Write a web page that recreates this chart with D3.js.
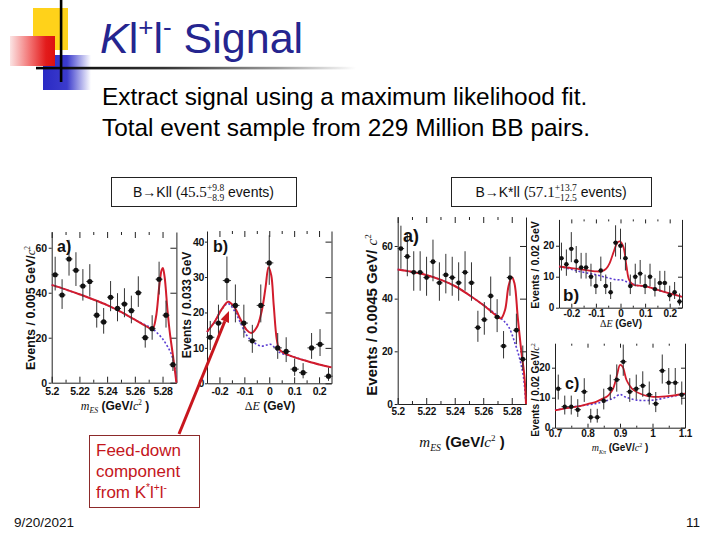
<!DOCTYPE html>
<html><head><meta charset="utf-8">
<script src="https://cdn.jsdelivr.net/npm/d3@7"></script>
<style>body{margin:0;background:#fff}svg{display:block}</style>
</head><body><svg id="c" width="720" height="540"></svg>
<script>
// ---------------- DATA ----------------
// B->Kll, m_ES panel
const kllMesX = [5.2025,5.2075,5.2125,5.2175,5.2225,5.2275,5.2325,5.2375,5.2425,5.2475,5.2525,5.2575,5.2625,5.2675,5.2725,5.2775,5.2825,5.2875];
const kllMesY = [48,39,55,50,43,45,30,27,38,33,35,32,40,20,24,46,30,8];
const kllMesUp = [8,7,8.5,8,7.5,7.7,6.5,6.2,7.2,6.8,7,6.7,7.3,5.5,6,7.8,6.5,4];
const kllMesDn = [7,6.2,7.4,7,6.5,6.7,5.5,5.2,6.2,5.7,5.9,5.6,6.3,4.4,4.9,6.8,5.5,2.8];
const kllMesFit = [[5.2,43.5],[5.21,41.5],[5.22,39.3],[5.23,37],[5.24,34.5],[5.25,31.5],[5.26,28],[5.267,25.5],[5.2727,24],[5.2752,29],[5.2776,42.7],[5.2793,50],[5.2802,51],[5.2815,47],[5.2836,32],[5.2855,21],[5.2873,13],[5.289,5],[5.29,0]];
const kllMesBkg = [[5.2,43.5],[5.22,39.3],[5.24,34.5],[5.26,28],[5.2727,24],[5.2752,22.7],[5.28,19.5],[5.285,14.5],[5.287,11.5],[5.289,6.5],[5.29,0]];
const mesTicks = [5.2,5.22,5.24,5.26,5.28];
const mesTickLabels = ["5.2","5.22","5.24","5.26","5.28"];
const mesMinor = [5.21,5.23,5.25,5.27];
const kllMesYTicks = [0,20,40,60];

// B->Kll, Delta E panel
const kllDeX = [-0.237,-0.204,-0.170,-0.136,-0.102,-0.068,-0.034,0,0.034,0.068,0.102,0.136,0.170,0.204,0.238];
const kllDeY = [13,17,29,22,17,12,22,34,10,9,4,3,10,11,2];
const kllDeUp = [4.6,5.2,6.8,5.9,5.2,4.5,5.9,7.8,4.2,4,3,2.7,4.2,4.3,2.4];
const kllDeDn = [3.6,4.1,5.6,4.8,4.1,3.4,4.8,6.2,3.1,3,1.9,1.6,3.1,3.3,1.3];
const kllDeFit = [[-0.25,14.5],[-0.22,17.3],[-0.19,21],[-0.165,23],[-0.14,21.5],[-0.115,18],[-0.09,15],[-0.072,14.2],[-0.05,15.8],[-0.03,20.5],[-0.015,27],[-0.003,32.8],[0.008,30.5],[0.018,22],[0.03,12.5],[0.04,9.6],[0.06,8.5],[0.1,7.4],[0.15,6.3],[0.2,5.3],[0.25,4.5]];
const kllDeBkg = [[-0.25,14.5],[-0.22,17.3],[-0.19,21],[-0.165,22.5],[-0.14,20.5],[-0.115,17],[-0.09,13.5],[-0.07,12],[-0.05,11],[-0.03,10.5],[-0.01,10.8],[0.005,11],[0.02,10.2],[0.04,8.8],[0.06,8.2],[0.1,7.4],[0.15,6.3],[0.2,5.3],[0.25,4.5]];
const deTicks = [-0.2,-0.1,0,0.1,0.2];
const deTickLabels = ["-0.2","-0.1","0","0.1","0.2"];
const deMinor = [-0.15,-0.05,0.05,0.15];
const kllDeYTicks = [0,10,20,30,40];

// B->K*ll, m_ES panel
const kstMesX = [5.20225,5.20675,5.21125,5.21575,5.22025,5.22475,5.22925,5.23375,5.23825,5.24275,5.24725,5.25175,5.25625,5.26075,5.26525,5.26975,5.27425,5.27875,5.28325,5.28775];
const kstMesY = [59,56,50,50,48,54,46,49,48,46,50,46,29,32,41,33,22,48,28,17];
const kstMesUp = [8.7,8.5,8,8,7.9,8.4,7.8,8,7.9,7.8,8,7.8,6.4,6.7,7.4,6.8,5.7,7.9,6.3,5.2];
const kstMesDn = [7.7,7.5,7,7,6.9,7.4,6.8,7,6.9,6.8,7,6.8,5.4,5.7,6.4,5.7,4.7,6.9,5.3,4.1];
const kstMesFit = [[5.2,51.1],[5.21,50.2],[5.22,49],[5.23,47.2],[5.24,44.8],[5.25,41.4],[5.26,37.6],[5.2695,33.4],[5.2725,32.5],[5.2753,35.7],[5.2777,44.6],[5.28,48.2],[5.2819,45.8],[5.2842,33],[5.2866,20.5],[5.2889,10.4],[5.29,0]];
const kstMesBkg = [[5.2,51.1],[5.22,49],[5.24,44.8],[5.26,37.6],[5.2725,32.5],[5.2777,29.4],[5.2823,23],[5.2858,16.7],[5.2882,10.4],[5.29,0]];
const kstMesYTicks = [0,20,40,60];

// B->K*ll, Delta E panel
const kstDeX = [-0.24,-0.22,-0.20,-0.18,-0.16,-0.14,-0.12,-0.10,-0.08,-0.06,-0.04,-0.02,0,0.02,0.04,0.06,0.08,0.10,0.12,0.14,0.16,0.18,0.20,0.22,0.24];
const kstDeY = [16,14,19,15,13,13,10,7,12,7,5,21,20,16,7,10,11,7,10,6,8,8,4,5,2];
const kstDeUp = [5,4.8,5.4,4.9,4.7,4.7,4.2,3.7,4.5,3.7,3.3,5.6,5.5,5,3.7,4.2,4.4,3.7,4.2,3.5,3.9,3.9,3.1,3.3,2.6];
const kstDeDn = [4,3.7,4.3,3.8,3.6,3.6,3.1,2.6,3.4,2.6,2.2,4.5,4.4,4,2.6,3.1,3.3,2.6,3.1,2.4,2.8,2.8,1.9,2.2,1.3];
const kstDeFit = [[-0.25,13.3],[-0.2,12.8],[-0.166,12.4],[-0.12,11.9],[-0.098,11.7],[-0.075,11.8],[-0.058,12.6],[-0.044,14.4],[-0.027,18.2],[-0.0136,20.9],[-0.003,21.4],[0.011,19.8],[0.0245,13.3],[0.035,9],[0.052,7.4],[0.08,7.1],[0.106,6.8],[0.14,6],[0.174,5.2],[0.21,4.4],[0.25,3.5]];
const kstDeBkg = [[-0.25,13.3],[-0.2,12.4],[-0.166,11.7],[-0.13,11.1],[-0.098,10.6],[-0.07,10],[-0.044,9.5],[-0.016,9],[0.004,9],[0.02,8.5],[0.038,7.9],[0.06,7.4],[0.079,7.0],[0.106,6.8],[0.14,6],[0.174,5.2],[0.21,4.4],[0.25,3.5]];
const kstDeYTicks = [0,10,20];

// B->K*ll, m_Kpi panel
const kstMkpiX = [0.71,0.73,0.75,0.77,0.79,0.81,0.83,0.85,0.87,0.89,0.91,0.93,0.95,0.97,0.99,1.01,1.03,1.05,1.07,1.09];
const kstMkpiY = [13,7,7,6,12,3.5,3.5,9,13,16,22,12,13,14,11,8,19,15,15,11];
const kstMkpiUp = [4.7,3.7,3.7,3.5,4.5,2.8,2.8,4,4.7,5.1,5.7,4.5,4.7,4.8,4.4,3.9,5.4,4.9,4.9,4.4];
const kstMkpiDn = [3.6,2.6,2.6,2.4,3.4,1.8,1.8,2.9,3.6,4,4.7,3.4,3.6,3.7,3.3,2.8,4.3,3.8,3.8,3.3];
const kstMkpiFit = [[0.7,5.8],[0.75,6.8],[0.777,7.2],[0.805,8],[0.828,8.7],[0.845,9.6],[0.859,10.3],[0.87,11.5],[0.879,13.1],[0.886,15.5],[0.892,18.1],[0.9,20.9],[0.908,20.3],[0.92,15.9],[0.93,14],[0.941,12.6],[0.972,10.9],[1.003,10.3],[1.054,10.6],[1.1,11.4]];
const kstMkpiBkg = [[0.7,5.8],[0.75,6.9],[0.8,7.6],[0.828,8.1],[0.855,8.9],[0.879,9.8],[0.9,11.1],[0.915,10.3],[0.951,9.2],[1.003,9.2],[1.054,10.3],[1.1,11.2]];
const mkpiTicks = [0.7,0.8,0.9,1.0,1.1];
const mkpiTickLabels = ["0.7","0.8","0.9","1","1.1"];
const mkpiMinor = [0.75,0.85,0.95,1.05];
const kstMkpiYTicks = [0,10,20];

// text
const titleParts = ["K","l","+","l","-"," Signal"];
const subtitleLines = ["Extract signal using a maximum likelihood fit.","Total event sample from 229 Million BB pairs."];
const footerDate = "9/20/2021";
const footerPage = "11";

// ---------------- DRAWING ----------------
const SANS = "'Liberation Sans', Arial, Helvetica, sans-serif";
const SERIF = "'Liberation Serif', 'Times New Roman', serif";
const svg = d3.select("#c");
const defs = svg.append("defs");

function grad(id, stops, x2="100%", y2="0%") {
  const g = defs.append("linearGradient").attr("id", id).attr("x1","0%").attr("y1","0%").attr("x2",x2).attr("y2",y2);
  stops.forEach(s => g.append("stop").attr("offset", s[0]).attr("stop-color", s[1]));
}
grad("gRed", [["0%","#fbe4e4"],["45%","#f27070"],["80%","#e31b1b"],["100%","#dd1010"]]);
grad("gBlue", [["0%","#2a2ac4"],["50%","#3b3bcc"],["100%","#ffffff"]]);
grad("gLine", [["0%","#000"],["40%","#333"],["75%","#999"],["100%","#fff"]]);

// decoration
const deco = svg.append("g");
deco.append("rect").attr("x",33).attr("y",8).attr("width",35).attr("height",42).attr("fill","#ffd21a");
deco.append("rect").attr("x",43).attr("y",55).attr("width",48).attr("height",35).attr("fill","url(#gBlue)");
deco.append("rect").attr("x",10).attr("y",36).attr("width",45).attr("height",30).attr("fill","url(#gRed)");
deco.append("rect").attr("x",36).attr("y",66.8).attr("width",320).attr("height",2.6).attr("fill","url(#gLine)");
deco.append("rect").attr("x",59.8).attr("y",0).attr("width",2.6).attr("height",82).attr("fill","#000");

// title
const tt = svg.append("text").attr("x",100).attr("y",53).attr("font-family",SANS).attr("font-size",43).attr("fill","#25258f");
tt.append("tspan").attr("font-style","italic").text(titleParts[0]);
tt.append("tspan").text(titleParts[1]);
tt.append("tspan").attr("font-size",26).attr("dy",-17).text(titleParts[2]);
tt.append("tspan").attr("font-size",43).attr("dy",17).text(titleParts[3]);
tt.append("tspan").attr("font-size",26).attr("dy",-17).text(titleParts[4]);
tt.append("tspan").attr("font-size",43).attr("dy",17).text(titleParts[5].replace(" ","\u00a0"));

// subtitle
subtitleLines.forEach((s,i) => svg.append("text").attr("x",102).attr("y",105+i*31).attr("font-family",SANS).attr("font-size",24.4).attr("fill","#000").text(s));

// footer
svg.append("text").attr("x",14).attr("y",527).attr("font-family",SANS).attr("font-size",13.5).attr("fill","#111").text(footerDate);
svg.append("text").attr("x",700).attr("y",527).attr("text-anchor","end").attr("font-family",SANS).attr("font-size",13.5).attr("fill","#111").text(footerPage);

// sequential rich text
function seq(g, x, y, parts, base) {
  let cx = x;
  parts.forEach(p => {
    const sz = (p.s || 1) * base.size;
    const mk = (str, yy) => g.append("text").attr("x",cx).attr("y",yy)
        .attr("font-family", p.f || base.family).attr("font-size", sz)
        .attr("font-style", p.st || "normal").attr("font-weight", p.w || base.weight || "normal")
        .attr("fill", base.fill || "#111").text(str.replace(/ /g,"\u00a0"));
    if (p.stack) {
      const a = mk(p.stack[0], y + p.up), b = mk(p.stack[1], y + p.dn);
      cx += Math.max(a.node().getComputedTextLength(), b.node().getComputedTextLength());
    } else {
      const t = mk(p.t, y + (p.dy || 0) * base.size);
      cx += t.node().getComputedTextLength();
    }
  });
  return cx - x;
}
function centered(parent, cx, cy, parts, base, rotate) {
  const outer = parent.append("g").attr("transform", `translate(${cx},${cy})` + (rotate ? " rotate(-90)" : ""));
  const inner = outer.append("g");
  const w = seq(inner, 0, 0, parts, base);
  inner.attr("transform", `translate(${-w/2},0)`);
}

// boxes
function infoBox(x, y, w, h, parts) {
  const g = svg.append("g");
  g.append("rect").attr("x",x+0.5).attr("y",y+0.5).attr("width",w).attr("height",h).attr("fill","#fff").attr("stroke","#222").attr("stroke-width",1);
  centered(g, x + w/2, y + h/2 + 5, parts, {size:14, family:SANS, fill:"#111"});
}
infoBox(111, 177, 185, 29, [{t:"B\u2192Kll ("},{t:"45.5",f:SERIF,s:1.08},{stack:["+9.8","\u22128.9"],up:-6,dn:4,f:SERIF,s:0.68},{t:" events)"}]);
infoBox(451, 177, 200, 29, [{t:"B\u2192K*ll ("},{t:"57.1",f:SERIF,s:1.08},{stack:["+13.7","\u221212.5"],up:-6,dn:4,f:SERIF,s:0.68},{t:" events)"}]);

// panels
const lineGen = (x, y) => d3.line().x(d => x(d[0])).y(d => y(d[1])).curve(d3.curveCatmullRom.alpha(0.5));

function panel(p) {
  const x = d3.scaleLinear().domain(p.xDomain).range([p.left, p.right]);
  const y = d3.scaleLinear().domain(p.yDomain).range([p.bottom, p.top]);
  const g = svg.append("g");
  const styleAxis = (s, showText) => {
    s.select(".domain").attr("stroke","#222").attr("stroke-width",1);
    s.selectAll(".tick line").attr("stroke","#222");
    s.selectAll("text").attr("font-size",p.tickFont).attr("font-weight","bold").attr("font-family",SANS).attr("fill","#111").attr("letter-spacing",p.ls||0);
    if (!showText) s.selectAll("text").remove();
  };
  // minor ticks
  g.append("g").attr("transform",`translate(0,${p.bottom})`).call(d3.axisBottom(x).tickValues(p.xMinor).tickFormat("").tickSizeInner(-p.tick/2).tickSizeOuter(0)).call(s=>{styleAxis(s,false); s.select(".domain").remove();});
  g.append("g").attr("transform",`translate(0,${p.top})`).call(d3.axisTop(x).tickValues(p.xMinor).tickFormat("").tickSizeInner(-p.tick/2).tickSizeOuter(0)).call(s=>{styleAxis(s,false); s.select(".domain").remove();});
  // major
  g.append("g").attr("transform",`translate(0,${p.bottom})`)
    .call(d3.axisBottom(x).tickValues(p.xTicks).tickFormat((d,i)=>p.xLabels[i]).tickSizeInner(-p.tick).tickSizeOuter(0).tickPadding(p.xPad))
    .call(s=>styleAxis(s,true));
  g.append("g").attr("transform",`translate(0,${p.top})`)
    .call(d3.axisTop(x).tickValues(p.xTicks).tickFormat("").tickSizeInner(-p.tick).tickSizeOuter(0))
    .call(s=>{styleAxis(s,false); s.select(".domain").remove();});
  g.append("g").attr("transform",`translate(${p.left},0)`)
    .call(d3.axisLeft(y).tickValues(p.yTicks).tickFormat(d=>String(d)).tickSizeInner(p.yTick).tickSizeOuter(0).tickPadding(p.yPad))
    .call(s=>styleAxis(s,true));
  g.append("g").attr("transform",`translate(${p.right},0)`)
    .call(d3.axisRight(y).tickValues(p.yTicks).tickFormat("").tickSizeInner(-p.tick).tickSizeOuter(0))
    .call(s=>styleAxis(s,false));
  // curves
  g.append("path").attr("d", lineGen(x,y)(p.bkg)).attr("fill","none").attr("stroke","#5a3cd2").attr("stroke-width",1.6).attr("stroke-dasharray","2,2");
  g.append("path").attr("d", lineGen(x,y)(p.fit)).attr("fill","none").attr("stroke","#d21c2c").attr("stroke-width",p.fitW);
  // points
  const pts = p.px.map((v,i)=>({x:v, y:p.py[i], up:p.up[i], dn:p.dn[i]}));
  const eg = g.append("g").attr("stroke","#333").attr("stroke-width",1);
  eg.selectAll(".v").data(pts).join("line").attr("x1",d=>x(d.x)).attr("x2",d=>x(d.x)).attr("y1",d=>y(d.y+d.up)).attr("y2",d=>y(Math.max(0,d.y-d.dn)));
  eg.selectAll(".h").data(pts).join("line").attr("x1",d=>x(d.x-p.hw)).attr("x2",d=>x(d.x+p.hw)).attr("y1",d=>y(d.y)).attr("y2",d=>y(d.y));
  g.selectAll("circle").data(pts).join("circle").attr("cx",d=>x(d.x)).attr("cy",d=>y(d.y)).attr("r",p.r).attr("fill","#111");
  // tag
  g.append("text").attr("x",p.tag[1]).attr("y",p.tag[2]).attr("font-family",SANS).attr("font-weight","bold").attr("font-size",p.tag[3]).attr("fill","#111").text(p.tag[0]);
  // labels
  centered(g, p.yl[0], p.yl[1], p.yParts, {size:p.yl[2], family:SANS, weight:"bold"}, true);
  centered(g, p.xl[0], p.xl[1], p.xParts, {size:p.xl[2], family:SANS, weight:"bold"}, false);
}

const c2 = () => [{t:"c",f:SERIF,st:"italic",w:"normal"},{t:"2",s:0.6,dy:-0.4,w:"normal",f:SERIF}];
const mesLabel = [{t:"m",f:SERIF,st:"italic",w:"normal"},{t:"ES",f:SERIF,st:"italic",w:"normal",s:0.65,dy:0.25},{t:" (GeV/"},...c2(),{t:" )"}];
const deLabel = [{t:"\u0394",f:SERIF,w:"normal"},{t:"E",f:SERIF,st:"italic",w:"normal"},{t:" (GeV)"}];
const mkpiLabel = [{t:"m",f:SERIF,st:"italic",w:"normal"},{t:"K\u03c0",f:SERIF,st:"italic",w:"normal",s:0.6,dy:0.25},{t:" (GeV/"},...c2(),{t:" )"}];

panel({left:51.7,right:176.4,bottom:382.7,top:232,xDomain:[5.2,5.29],yDomain:[0,67],
  xTicks:mesTicks,xLabels:mesTickLabels,xMinor:mesMinor,yTicks:kllMesYTicks,tick:6,yTick:3,tickFont:10.5,ls:-0.3,xPad:4.5,yPad:2,
  px:kllMesX,py:kllMesY,up:kllMesUp,dn:kllMesDn,hw:0.0025,r:2.6,fit:kllMesFit,bkg:kllMesBkg,fitW:2,
  tag:["a)",57,252,16],yl:[34.5,308,12.5],xl:[115,410,12],
  yParts:[{t:"Events / 0.005 GeV/"},...c2()],xParts:mesLabel});
panel({left:207,right:331.5,bottom:383.3,top:231,xDomain:[-0.25,0.25],yDomain:[0,43],
  xTicks:deTicks,xLabels:deTickLabels,xMinor:deMinor,yTicks:kllDeYTicks,tick:6,yTick:2,tickFont:10.5,ls:-0.3,xPad:4,yPad:1,
  px:kllDeX,py:kllDeY,up:kllDeUp,dn:kllDeDn,hw:0.0165,r:2.6,fit:kllDeFit,bkg:kllDeBkg,fitW:2,
  tag:["b)",213,252,16],yl:[191,305,12],xl:[270,410,12],
  yParts:[{t:"Events / 0.033 GeV"}],xParts:deLabel});
panel({left:397.7,right:526,bottom:404,top:217,xDomain:[5.2,5.29],yDomain:[0,71],
  xTicks:mesTicks,xLabels:mesTickLabels,xMinor:mesMinor,yTicks:kstMesYTicks,tick:6,yTick:3,tickFont:10,ls:-0.2,xPad:3.5,yPad:2,
  px:kstMesX,py:kstMesY,up:kstMesUp,dn:kstMesDn,hw:0.00225,r:2.4,fit:kstMesFit,bkg:kstMesBkg,fitW:2,
  tag:["a)",403,242,18],yl:[377,315,15],xl:[462,447,15],
  yParts:[{t:"Events / 0.0045 GeV/ "},...c2()],xParts:mesLabel});
panel({left:559,right:682,bottom:307.7,top:219.4,xDomain:[-0.25,0.25],yDomain:[0,28.5],
  xTicks:deTicks,xLabels:deTickLabels,xMinor:deMinor,yTicks:kstDeYTicks,tick:4,yTick:3,tickFont:10,ls:-0.2,xPad:2.5,yPad:2,
  px:kstDeX,py:kstDeY,up:kstDeUp,dn:kstDeDn,hw:0.01,r:2.2,fit:kstDeFit,bkg:kstDeBkg,fitW:1.8,
  tag:["b)",563,301,17],yl:[539,265,10.5],xl:[621,327,10],
  yParts:[{t:"Events / 0.02 GeV"}],xParts:deLabel});
panel({left:555,right:685,bottom:427.7,top:343.7,xDomain:[0.7,1.1],yDomain:[0,28],
  xTicks:mkpiTicks,xLabels:mkpiTickLabels,xMinor:mkpiMinor,yTicks:kstMkpiYTicks,tick:4,yTick:3,tickFont:10,ls:-0.2,xPad:2.5,yPad:2,
  px:kstMkpiX,py:kstMkpiY,up:kstMkpiUp,dn:kstMkpiDn,hw:0.01,r:2.2,fit:kstMkpiFit,bkg:kstMkpiBkg,fitW:1.8,
  tag:["c)",565,389,16],yl:[539,390,10],xl:[620,451,10],
  yParts:[{t:"Events / 0.02 GeV/"},...c2()],xParts:mkpiLabel});

// feed-down annotation
const fd = svg.append("g");
const tip = [229, 311], tail = [179, 434];
const dx = tip[0]-tail[0], dy = tip[1]-tail[1], L = Math.hypot(dx,dy), ux = dx/L, uy = dy/L;
const hl = 11, hwid = 4.5;
const bx = tip[0]-ux*hl, by = tip[1]-uy*hl;
fd.append("line").attr("x1",tail[0]).attr("y1",tail[1]).attr("x2",bx).attr("y2",by).attr("stroke","#c8161e").attr("stroke-width",3);
fd.append("polygon").attr("points",[[tip[0],tip[1]],[bx-uy*hwid,by+ux*hwid],[bx+uy*hwid,by-ux*hwid]].map(p=>p.join(",")).join(" ")).attr("fill","#c8161e");
fd.append("rect").attr("x",89.5).attr("y",435.5).attr("width",110).attr("height",72).attr("fill","#fff").attr("stroke","#8c2a2a").attr("stroke-width",1);
const fdStyle = {size:17, family:SANS, fill:"#c4161c"};
seq(fd, 96, 456, [{t:"Feed-down"}], fdStyle);
seq(fd, 96, 477, [{t:"component"}], fdStyle);
seq(fd, 96, 498, [{t:"from K"},{t:"*",s:0.6,dy:-0.4},{t:"l"},{t:"+",s:0.6,dy:-0.4},{t:"l"},{t:"-",s:0.6,dy:-0.4}], fdStyle);
</script></body></html>
